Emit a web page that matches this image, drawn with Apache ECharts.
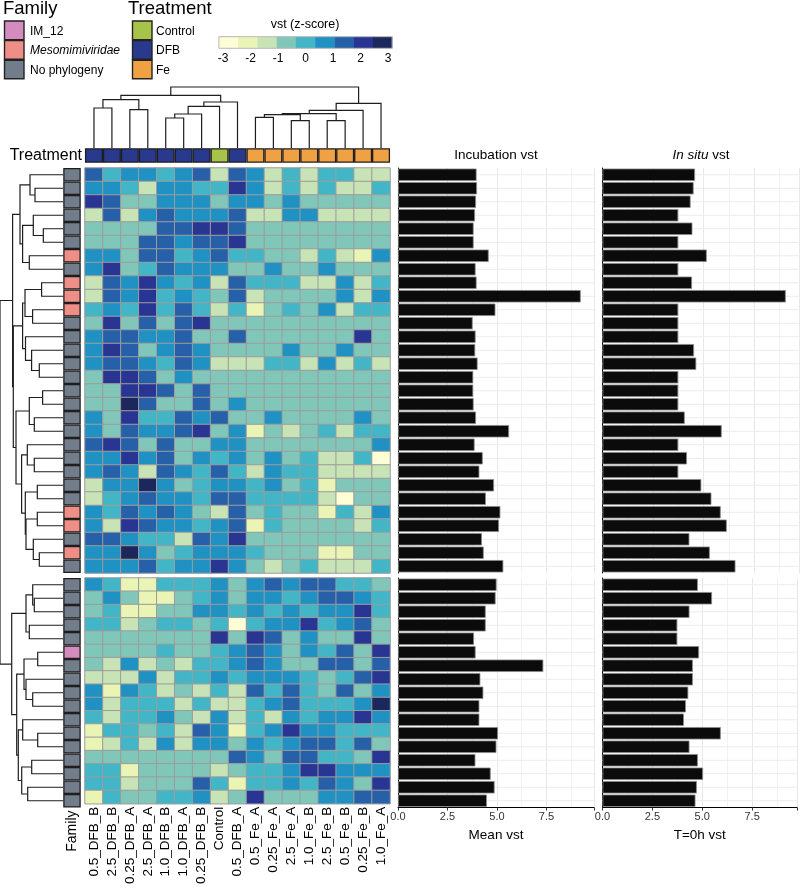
<!DOCTYPE html>
<html><head><meta charset="utf-8">
<script src="https://cdn.jsdelivr.net/npm/echarts@6/dist/echarts.min.js"></script>
<style>html,body{margin:0;padding:0;background:#fff}#c{width:800px;height:887px}</style>
</head><body><div id="c"></div>
<script>
// ---------------- DATA ----------------
const sampleNames = ['0.5_DFB_B','2.5_DFB_B','0.25_DFB_A','2.5_DFB_A','1.0_DFB_B','1.0_DFB_A','0.25_DFB_B','Control','0.5_DFB_A','0.5_Fe_A','0.25_Fe_A','2.5_Fe_A','1.0_Fe_B','2.5_Fe_B','0.5_Fe_B','0.25_Fe_B','1.0_Fe_A'];
const sampleTreatment = ['DFB','DFB','DFB','DFB','DFB','DFB','DFB','Control','DFB','Fe','Fe','Fe','Fe','Fe','Fe','Fe','Fe'];
const treatmentNames = ['Control','DFB','Fe'];
const treatmentColors = ['#a8c34a','#293a8e','#f0a143'];
const familyNames = ['IM_12','Mesomimiviridae','No phylogeny'];
const familyColors = ['#d48cbf','#ee8e86','#717d8a'];

const familyTop = ['No phylogeny','No phylogeny','No phylogeny','No phylogeny','No phylogeny','No phylogeny','Mesomimiviridae','No phylogeny','Mesomimiviridae','Mesomimiviridae',
  'Mesomimiviridae','No phylogeny','No phylogeny','No phylogeny','No phylogeny','No phylogeny','No phylogeny','No phylogeny','No phylogeny','No phylogeny',
  'No phylogeny','No phylogeny','No phylogeny','No phylogeny','No phylogeny','Mesomimiviridae','Mesomimiviridae','No phylogeny','Mesomimiviridae','No phylogeny'];
const familyBottom = ['No phylogeny','No phylogeny','No phylogeny','No phylogeny','No phylogeny','IM_12','No phylogeny','No phylogeny','No phylogeny','No phylogeny',
  'No phylogeny','No phylogeny','No phylogeny','No phylogeny','No phylogeny','No phylogeny','No phylogeny'];

// z-scores (vst), rows in displayed order, columns in sampleNames order
const zTop = [
 [1.4,0,0.7,0.7,0,0.7,1.4,-1.4,1.4,0.7,-1.4,0,-1.4,0,0,-1.4,-1.4],
 [0.7,0.7,0,-1.4,0.7,0.7,0,0,2.1,0.7,-1.4,0,-1.4,0,-1.4,-1.4,0],
 [2.1,1.4,-0.7,-0.7,0.7,0.7,0.7,-0.7,0.7,0.7,-0.7,0.7,-0.7,-0.7,-0.7,-0.7,-0.7],
 [-1.4,1.4,-1.4,0.7,1.4,0.7,0.7,0.7,1.4,-1.4,-1.4,0.7,0.7,-1.4,-1.4,-1.4,-1.4],
 [-0.7,-0.7,-0.7,-0.7,1.4,1.4,2.1,2.1,1.4,-0.7,-0.7,-0.7,-0.7,-0.7,-0.7,-0.7,-0.7],
 [-0.7,-0.7,-0.7,1.4,1.4,0.7,1.4,1.4,2.1,-0.7,-0.7,-0.7,-0.7,-0.7,-0.7,-0.7,-0.7],
 [0.7,0.7,-0.7,1.4,1.4,0,0.7,1.4,0,0,-0.7,-0.7,-1.4,0,-1.4,-2.1,0.7],
 [0.7,2.1,-0.7,0,1.4,0.7,0.7,0.7,-0.7,-0.7,0.7,-0.7,-0.7,0.7,-0.7,-0.7,-0.7],
 [-1.4,1.4,0.7,2.1,0.7,0,0.7,-1.4,1.4,0,0,0,-1.4,-1.4,0.7,-1.4,0],
 [-1.4,1.4,0.7,2.1,0,0.7,0,-0.7,1.4,-1.4,-0.7,-0.7,-0.7,-0.7,0.7,-1.4,0.7],
 [0,0.7,0,2.1,0,1.4,0,-1.4,0,-2.1,-0.7,0,-0.7,0.7,-1.4,0,0],
 [-0.7,2.1,-0.7,1.4,-0.7,1.4,2.1,-0.7,-0.7,-0.7,-0.7,-0.7,-0.7,-0.7,-0.7,-0.7,-0.7],
 [0.7,1.4,1.4,0.7,0.7,1.4,-0.7,-0.7,1.4,-0.7,-0.7,-0.7,-0.7,-0.7,-0.7,2.1,-0.7],
 [0.7,2.1,1.4,-0.7,0.7,1.4,0.7,-0.7,-0.7,-0.7,-0.7,0.7,-0.7,-0.7,0.7,-0.7,-0.7],
 [0.7,1.4,1.4,0.7,0,1.4,0.7,-1.4,-1.4,-1.4,0,0,-1.4,0.7,-1.4,0,-1.4],
 [-0.7,2.1,2.1,1.4,-0.7,0.7,-0.7,-0.7,-0.7,-0.7,-0.7,-0.7,-0.7,-0.7,-0.7,-0.7,-0.7],
 [-0.7,-0.7,2.1,2.1,1.4,-0.7,1.4,-0.7,-0.7,-0.7,-0.7,-0.7,-0.7,-0.7,-0.7,-0.7,-0.7],
 [-0.7,-0.7,2.8,1.4,-0.7,-0.7,1.4,-0.7,0.7,-0.7,-0.7,-0.7,-0.7,-0.7,-0.7,-0.7,-0.7],
 [0.7,-0.7,2.1,0,0,1.4,0.7,1.4,-0.7,-0.7,0.7,-0.7,-0.7,-0.7,-0.7,0.7,-0.7],
 [0.7,-0.7,1.4,0.7,0.7,1.4,2.1,-0.7,0.7,-2.1,-0.7,-1.4,-0.7,0,-1.4,0,0],
 [1.4,2.1,1.4,-0.7,1.4,-0.7,-0.7,0.7,0.7,-0.7,-0.7,-0.7,-0.7,-0.7,-0.7,-0.7,0.7],
 [0.7,0.7,2.1,0.7,1.4,-0.7,0.7,0,0.7,-0.7,0.7,-0.7,0,-1.4,-1.4,0,-2.8],
 [0.7,1.4,0.7,-1.4,1.4,0.7,0,1.4,0,-1.4,0.7,0,0,-1.4,-1.4,-1.4,-1.4],
 [-1.4,0.7,0.7,2.8,0.7,-0.7,0,0.7,0.7,0,0.7,-0.7,0,-2.1,-0.7,-0.7,-0.7],
 [-1.4,0,0.7,1.4,0.7,0.7,0,1.4,1.4,0,0,0,0,-1.4,-2.8,-0.7,-0.7],
 [0.7,0,1.4,0.7,1.4,0.7,-0.7,-1.4,1.4,-0.7,0,-0.7,-0.7,-2.1,0,-1.4,0.7],
 [0.7,-1.4,2.1,1.4,0.7,0.7,0,0.7,1.4,-2.1,0,-0.7,-0.7,-0.7,-0.7,-1.4,0],
 [1.4,1.4,0.7,0,0,-1.4,1.4,0.7,2.1,-0.7,-0.7,-0.7,-0.7,-0.7,-0.7,-0.7,-0.7],
 [0.7,0.7,2.8,0.7,-0.7,0,0.7,0.7,0.7,0,-0.7,-0.7,-0.7,-2.1,-2.1,-0.7,-0.7],
 [0.7,0.7,0.7,1.4,0,0.7,0.7,2.1,0.7,-0.7,-1.4,-0.7,0,-1.4,-1.4,-1.4,0]
];
const zBottom = [
 [0.7,0,-2.1,-2.1,0,0,0,0.7,-0.7,0.7,1.4,0.7,1.4,1.4,0,0,-0.7],
 [-0.7,0.7,-0.7,-2.1,-2.1,-0.7,0,0.7,-0.7,0.7,0.7,0,0.7,1.4,1.4,0.7,0],
 [-0.7,0,-2.1,-2.1,-0.7,-0.7,0.7,0.7,0,0.7,0,0.7,0,0.7,0.7,2.1,0],
 [0,0,-1.4,-0.7,0,0,-0.7,0,-2.8,0,0.7,0.7,2.1,0,0.7,1.4,-0.7],
 [-0.7,-0.7,-0.7,-0.7,-0.7,-0.7,-0.7,2.1,-0.7,2.1,1.4,-0.7,0.7,-0.7,-0.7,2.1,-0.7],
 [-0.7,-0.7,-0.7,-0.7,0,-0.7,-0.7,0,0.7,1.4,0.7,-0.7,0.7,0,1.4,-0.7,2.1],
 [-0.7,-1.4,0.7,-1.4,-0.7,-1.4,0,0,0.7,1.4,0.7,-0.7,-0.7,1.4,1.4,-0.7,1.4],
 [-1.4,-1.4,-1.4,0.7,-1.4,0,0,0.7,0,0.7,0.7,0.7,0,-0.7,0,1.4,2.1],
 [0.7,-2.1,0.7,0,-1.4,-0.7,-1.4,0,-1.4,1.4,0,1.4,0,-0.7,1.4,-0.7,0.7],
 [0.7,-1.4,0,0,0,-1.4,0,-1.4,-1.4,0,0.7,1.4,0,0,0,0.7,2.8],
 [0,-1.4,0,0,0.7,-0.7,-1.4,0.7,-1.4,0,-1.4,0.7,0,0.7,0.7,2.1,0.7],
 [-2.1,0,0,-0.7,0,-1.4,1.4,0.7,-2.1,0,0.7,2.1,0.7,0.7,0,0,0],
 [-2.1,-1.4,0,-1.4,0.7,-1.4,0.7,0.7,-0.7,0.7,0,0.7,1.4,1.4,0,1.4,-0.7],
 [-0.7,-0.7,-0.7,-0.7,-0.7,-0.7,-0.7,-0.7,1.4,0.7,-0.7,1.4,1.4,0,0,-0.7,2.1],
 [0,0,-2.1,-0.7,-0.7,-0.7,-0.7,-1.4,-0.7,0,0,0.7,2.1,2.1,0.7,0.7,0.7],
 [0,0,-1.4,-0.7,-0.7,-0.7,1.4,0,-2.1,0,0,0.7,0,1.4,0.7,-0.7,2.1],
 [-2.1,0,-0.7,-0.7,0,0,0.7,-1.4,-0.7,2.1,-0.7,-0.7,-0.7,0.7,0.7,1.4,1.4]
];

const incubationTop = [3.97,3.99,3.94,3.89,3.82,3.82,4.58,3.92,3.97,9.23,4.92,3.77,3.92,3.90,4.02,3.80,3.80,3.82,3.94,5.61,3.87,4.28,4.11,4.85,4.44,5.17,5.10,4.24,4.33,5.32];
const incubationBottom = [4.98,4.93,4.43,4.43,3.84,3.92,7.34,4.16,4.31,4.11,4.11,5.05,4.97,3.91,4.68,4.88,4.49];
const insituTop = [4.58,4.51,4.36,3.75,4.45,3.75,5.16,3.75,4.43,9.07,3.75,3.75,3.75,4.53,4.64,3.75,3.75,3.75,4.07,5.90,3.75,4.18,3.75,4.89,5.39,5.85,6.15,4.30,5.31,6.58];
const insituBottom = [4.78,5.49,4.36,3.75,3.75,4.84,4.53,4.53,4.30,4.18,4.08,5.93,4.36,4.78,5.04,4.73,4.66];

// dendrograms: [childA, childB, height]; negative = leaf (-(index+1)), positive = earlier merge (1-based)
const colMerge = [
 [-1,-2,40.3],[-3,-4,38.7],[1,2,48.7],[-5,-6,30.3],[4,-7,34.3],[5,-8,42],[6,-9,46.3],[3,7,53],
 [-10,-11,31],[-12,-13,27.7],[-14,-15,27.7],[9,10,33.7],[12,11,34.7],[13,-16,38],[14,-17,45],[8,15,61.3]
];
const rowMerge = [
 [-2,-3,28.3],[-1,1,33.3],[-5,-6,20],[-4,3,30],[-7,-8,34],[4,5,40.7],[2,6,43.3],
 [-9,-10,21.7],[-11,-12,30.7],[8,9,38.3],[-15,-16,24],[-14,11,31.7],[-13,12,37.8],[10,13,40.7],
 [-17,-18,20.7],[-19,-20,29],[15,16,34],[-22,-23,29],[-21,18,36],[-24,-25,26],[-26,-27,26],
 [-29,-30,24],[-28,22,30],[21,23,37.3],[20,24,38],[19,25,41.7],[17,26,47.3],[14,27,50],[7,28,50.7],
 [-32,-33,29],[-31,30,30.6],[-34,-35,34],[31,32,37.3],[-36,-37,25.6],[-39,-40,30.6],[-38,35,37.3],
 [34,36,39.3],[-42,-43,25.6],[-41,38,40.6],[-44,-45,31.6],[-46,-47,35.6],[40,41,41.6],[39,42,45],
 [37,43,46.6],[33,44,51.6],[29,45,63.3]
];

const vstBreaks = [-3.15,-2.45,-1.75,-1.05,-0.35,0.35,1.05,1.75,2.45,3.15];
const vstColors = ['#fdfdd6','#eaf4b4','#c8e4b6','#80c7b9','#42b6c6','#1f91c3','#2560a8','#283593','#1c275c'];

// ---------------- LAYOUT ----------------
const FONT = "'Liberation Sans', Arial, Helvetica, sans-serif";
const rowH = 13.5, gapPx = 5, nTop = zTop.length, nBot = zBottom.length;
const topY = 168, topH = nTop*rowH, botY = topY + topH + gapPx, botH = nBot*rowH;
const hmLeft = 85, hmW = 305;
const rowIdsTop = zTop.map((r,i)=>'t'+i);
const rowIdsBot = zBottom.map((r,i)=>'b'+i);

function heatData(rows){ const out=[]; rows.forEach((r,i)=>r.forEach((v,j)=>out.push([j,i,v]))); return out; }

function dendroSegments(merges, leafPos){
  const pos=[], h=[], segs=[];
  merges.forEach(([a,b,hh],k)=>{
    const pa = a<0 ? leafPos[-a-1] : pos[a-1], ha = a<0 ? 0 : h[a-1];
    const pb = b<0 ? leafPos[-b-1] : pos[b-1], hb = b<0 ? 0 : h[b-1];
    pos[k]=(pa+pb)/2; h[k]=hh;
    segs.push([pa,ha,pa,hh,pb,hh,pb,hb]);
  });
  return segs;
}
const gapRows = gapPx/rowH;
const rowLeafPos = [...zTop.map((r,i)=>i+0.5), ...zBottom.map((r,j)=>nTop+gapRows+j+0.5)];
const colLeafPos = sampleNames.map((s,j)=>j);
const colSegs = dendroSegments(colMerge, colLeafPos);
const rowSegs = dendroSegments(rowMerge, rowLeafPos).map(s=>[s[1],s[0],s[3],s[2],s[5],s[4],s[7],s[6]]);

function polyRender(params, api){
  const pts=[]; for(let k=0;k<4;k++) pts.push(api.coord([api.value(2*k), api.value(2*k+1)]));
  return {type:'polyline', shape:{points:pts}, style:{stroke:'#1e1e1e', lineWidth:1.2, fill:null}};
}
function cellRender(colors, names){
  return function(params, api){
    const c = api.coord([api.value(0), api.value(1)]); const s = api.size([1,1]);
    return {type:'rect', shape:{x:c[0]-s[0]/2+0.6, y:c[1]-s[1]/2+0.6, width:s[0]-1.2, height:s[1]-1.2},
      style:{fill: colors[api.value(2)], stroke:'#1e1e1e', lineWidth:1.3}};
  };
}
function gridLineRender(params, api){
  const cs = params.coordSys; const y = api.coord([0, api.value(1)])[1];
  return {type:'line', shape:{x1:cs.x, y1:y, x2:cs.x+cs.width, y2:y}, style:{stroke:'#ececec', lineWidth:1}};
}

const hidden = {show:false};
const catY = (grid, data)=>({type:'category', gridIndex:grid, data, inverse:true, show:false});
const barX = (grid, max, bottom, name)=>({
  type:'value', gridIndex:grid, min:0, max, interval:2.5,
  axisLine:{show:bottom, onZero:false, lineStyle:{color:'#000', width:1}},
  axisTick:{show:bottom, length:3, lineStyle:{color:'#333'}},
  axisLabel:{show:bottom, fontSize:11, color:'#333', margin:4, fontFamily:FONT,
    formatter:v=> (Math.abs(v/2.5-Math.round(v/2.5))<1e-6 ? v.toFixed(1) : '')},
  splitLine:{show:true, lineStyle:{color:'#e8e8e8', width:1}},
  minorTick:{show:false, splitNumber:2},
  minorSplitLine:{show:true, lineStyle:{color:'#f2f2f2', width:1}},
  name: bottom ? name : '', nameLocation:'middle', nameGap:21,
  nameTextStyle:{fontSize:13.5, color:'#000', fontFamily:FONT}
});
const barY = (grid, data)=>({type:'category', gridIndex:grid, data, inverse:true,
  axisLine:{show:true, lineStyle:{color:'#000', width:1}}, axisTick:{show:false}, axisLabel:{show:false}, splitLine:{show:false}});
const barSeries = (axis, data)=>({type:'bar', xAxisIndex:axis, yAxisIndex:axis, data, barCategoryGap:'8%', z:3,
  itemStyle:{color:'#0b0b0b', borderColor:'#8a8a8a', borderWidth:0.8}, emphasis:{disabled:true}});
const gridSeries = (axis, ids)=>({type:'custom', xAxisIndex:axis, yAxisIndex:axis, z:1, silent:true,
  data: ids.map((r,i)=>[0,i]), renderItem:gridLineRender});

const incW = 196, incMax = 9.9, situW = 197, situMax = 9.75;

const option = {
  animation:false,
  backgroundColor:'#fff',
  textStyle:{fontFamily:FONT},
  grid:[
    {left:hmLeft, top:topY, width:hmW, height:topH},          //0 heat top
    {left:hmLeft, top:botY, width:hmW, height:botH},          //1 heat bottom
    {left:hmLeft, top:148.3, width:hmW, height:14.4},         //2 treatment
    {left:63.3, top:topY, width:17.4, height:topH},           //3 family top
    {left:63.3, top:botY, width:17.4, height:botH},           //4 family bottom
    {left:398, top:topY, width:incW, height:topH},            //5 incubation top
    {left:398, top:botY, width:incW, height:botH},            //6 incubation bottom
    {left:602.5, top:topY, width:situW, height:topH},         //7 in situ top
    {left:602.5, top:botY, width:situW, height:botH},         //8 in situ bottom
    {left:hmLeft, top:87, width:hmW, height:61.3},            //9 column dendrogram
    {left:0, top:topY, width:63.3, height:topH+gapPx+botH},   //10 row dendrogram
    {left:223, top:36.7, width:165, height:11.6}              //11 colour bar
  ],
  xAxis:[
    {type:'category', gridIndex:0, data:sampleNames, show:false},
    {type:'category', gridIndex:1, data:sampleNames, axisLine:hidden, axisTick:hidden, splitLine:hidden,
      axisLabel:{rotate:90, interval:0, fontSize:13.5, color:'#000', margin:3, fontFamily:FONT}},
    {type:'category', gridIndex:2, data:sampleNames, show:false},
    {type:'category', gridIndex:3, data:['Family'], show:false},
    {type:'category', gridIndex:4, data:['Family'], axisLine:hidden, axisTick:hidden, splitLine:hidden,
      axisLabel:{rotate:90, fontSize:14, color:'#000', margin:3, fontFamily:FONT}},
    barX(5, incMax, false, ''),
    barX(6, incMax, true, 'Mean vst'),
    barX(7, situMax, false, ''),
    barX(8, situMax, true, 'T=0h vst'),
    {type:'value', gridIndex:9, min:-0.5, max:sampleNames.length-0.5, show:false},
    {type:'value', gridIndex:10, min:0, max:63.3, inverse:true, show:false},
    {type:'value', gridIndex:11, min:-3, max:3, interval:1, axisLine:hidden, axisTick:hidden, splitLine:hidden,
      axisLabel:{fontSize:12, color:'#000', margin:4, fontFamily:FONT}}
  ],
  yAxis:[
    catY(0, rowIdsTop), catY(1, rowIdsBot),
    {type:'category', gridIndex:2, data:['Treatment'], axisLine:hidden, axisTick:hidden, splitLine:hidden,
      axisLabel:{fontSize:16, color:'#000', margin:3, fontFamily:FONT}},
    catY(3, rowIdsTop), catY(4, rowIdsBot),
    barY(5, rowIdsTop), barY(6, rowIdsBot), barY(7, rowIdsTop), barY(8, rowIdsBot),
    {type:'value', gridIndex:9, min:0, max:61.3, show:false},
    {type:'value', gridIndex:10, min:0, max:nTop+nBot+gapRows, inverse:true, show:false},
    {type:'value', gridIndex:11, min:0, max:1, show:false}
  ],
  visualMap:{type:'piecewise', show:false, seriesIndex:[0,1], dimension:2,
    pieces: vstColors.map((c,k)=>({gte:vstBreaks[k], lt:vstBreaks[k+1], color:c}))},
  series:[
    {type:'heatmap', xAxisIndex:0, yAxisIndex:0, data:heatData(zTop), itemStyle:{borderColor:'#9c9c9c', borderWidth:1}, emphasis:{disabled:true}},
    {type:'heatmap', xAxisIndex:1, yAxisIndex:1, data:heatData(zBottom), itemStyle:{borderColor:'#9c9c9c', borderWidth:1}, emphasis:{disabled:true}},
    {type:'custom', xAxisIndex:2, yAxisIndex:2, data:sampleTreatment.map((t,j)=>[j,0,treatmentNames.indexOf(t)]), renderItem:cellRender(treatmentColors)},
    {type:'custom', xAxisIndex:3, yAxisIndex:3, data:familyTop.map((f,i)=>[0,i,familyNames.indexOf(f)]), renderItem:cellRender(familyColors)},
    {type:'custom', xAxisIndex:4, yAxisIndex:4, data:familyBottom.map((f,i)=>[0,i,familyNames.indexOf(f)]), renderItem:cellRender(familyColors)},
    gridSeries(5, rowIdsTop), gridSeries(6, rowIdsBot), gridSeries(7, rowIdsTop), gridSeries(8, rowIdsBot),
    barSeries(5, incubationTop), barSeries(6, incubationBottom), barSeries(7, insituTop), barSeries(8, insituBottom),
    {type:'custom', xAxisIndex:9, yAxisIndex:9, data:colSegs, renderItem:polyRender, clip:false},
    {type:'custom', xAxisIndex:10, yAxisIndex:10, data:rowSegs, renderItem:polyRender, clip:false},
    {type:'custom', xAxisIndex:11, yAxisIndex:11, clip:false,
      data: vstColors.map((c,k)=>[vstBreaks[k], vstBreaks[k+1], k]),
      renderItem:(params, api)=>{
        const p0 = api.coord([api.value(0),0]), p1 = api.coord([api.value(1),1]);
        const block = {type:'rect', shape:{x:p0[0], y:p1[1], width:p1[0]-p0[0]+0.3, height:p0[1]-p1[1]}, style:{fill:vstColors[api.value(2)]}};
        if (api.value(2)!==0) return block;
        const f0 = api.coord([vstBreaks[0],0]), f1 = api.coord([vstBreaks[vstBreaks.length-1],1]);
        return {type:'group', children:[block,
          {type:'rect', z2:20, shape:{x:f0[0], y:f1[1], width:f1[0]-f0[0], height:f0[1]-f1[1]}, style:{fill:null, stroke:'#b8b8b8', lineWidth:1}}]};
      }}
  ],
  graphic:[]
};

// legends and panel titles
const g = option.graphic;
g.push({type:'text', x:3, y:8.5, style:{text:'Family', font:`18.5px ${FONT}`, fill:'#000', verticalAlign:'middle'}});
g.push({type:'text', x:128, y:8.5, style:{text:'Treatment', font:`18.5px ${FONT}`, fill:'#000', verticalAlign:'middle'}});
familyNames.forEach((n,k)=>{
  g.push({type:'rect', shape:{x:4.5, y:21+k*19.6, width:19.5, height:18.6}, style:{fill:familyColors[k], stroke:'#222', lineWidth:1.4}});
  g.push({type:'text', x:30, y:31.5+k*19.6, style:{text:n, font:`${n==='Mesomimiviridae'?'italic ':''}12px ${FONT}`, fill:'#000', verticalAlign:'middle'}});
});
treatmentNames.forEach((n,k)=>{
  g.push({type:'rect', shape:{x:132.5, y:21+k*19.6, width:19.5, height:18.6}, style:{fill:treatmentColors[k], stroke:'#222', lineWidth:1.4}});
  g.push({type:'text', x:156, y:31.5+k*19.6, style:{text:n, font:`12px ${FONT}`, fill:'#000', verticalAlign:'middle'}});
});
g.push({type:'text', x:305, y:25, style:{text:'vst (z-score)', font:`12.5px ${FONT}`, fill:'#000', align:'center', verticalAlign:'middle'}});
g.push({type:'text', x:398+incW/2, y:155, style:{text:'Incubation vst', font:`13.5px ${FONT}`, fill:'#000', align:'center', verticalAlign:'middle'}});
g.push({type:'text', x:602.5+situW/2, y:155, style:{text:'{i|In situ} vst', font:`13.5px ${FONT}`, fill:'#000', align:'center', verticalAlign:'middle',
  rich:{i:{fontStyle:'italic', fontSize:13.5, fontFamily:FONT}}}});

const chart = echarts.init(document.getElementById('c'), null, {renderer:'canvas', width:800, height:887});
chart.setOption(option);
</script></body></html>
